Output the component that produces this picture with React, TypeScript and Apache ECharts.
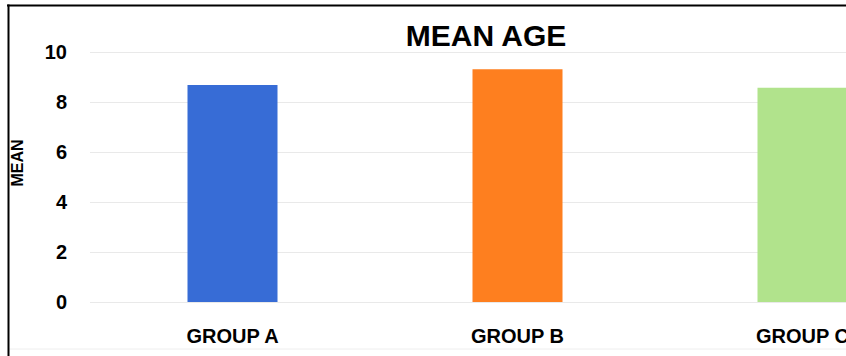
import React, { useEffect, useRef } from "react";
import * as echarts from "echarts";

const categories = ["GROUP A", "GROUP B", "GROUP C"];
const meanValues = [8.68, 9.31, 8.57];
const barColors = ["#376CD6", "#FE7F1F", "#B1E38C"];
const yTicks = { min: 0, max: 10, interval: 2 };

const FONT = "'Liberation Sans', Arial, sans-serif";

export default function App() {
  const ref = useRef<HTMLDivElement>(null);

  useEffect(() => {
    if (!ref.current) return;
    const chart = echarts.init(ref.current, undefined, { renderer: "svg" });
    chart.setOption({
      animation: false,
      backgroundColor: "#ffffff",
      // plot area runs past the right edge of the visible frame
      grid: { left: 90, top: 52, right: 1, bottom: 54 },
      xAxis: {
        type: "category",
        data: categories,
        axisLine: { show: false },
        axisTick: { show: false },
        axisLabel: {
          margin: 24,
          color: "#000000",
          fontFamily: FONT,
          fontWeight: "bold",
          fontSize: 20,
        },
      },
      yAxis: {
        type: "value",
        min: yTicks.min,
        max: yTicks.max,
        interval: yTicks.interval,
        axisLine: { show: false },
        axisTick: { show: false },
        splitLine: { lineStyle: { color: "#e9e9e9", width: 1 } },
        axisLabel: {
          margin: 23,
          color: "#000000",
          fontFamily: FONT,
          fontWeight: "bold",
          fontSize: 20,
        },
      },
      series: [
        {
          type: "bar",
          barWidth: 90,
          data: meanValues.map((v, i) => ({
            value: v,
            itemStyle: { color: barColors[i] },
          })),
        },
      ],
      graphic: [
        {
          type: "text",
          x: 486,
          y: 35,
          style: {
            text: "MEAN AGE",
            fontFamily: FONT,
            fontWeight: "bold",
            fontSize: 30,
            fill: "#000000",
            align: "center",
            verticalAlign: "middle",
          },
        },
        {
          type: "text",
          x: 17.5,
          y: 163,
          rotation: Math.PI / 2,
          style: {
            text: "MEAN",
            fontFamily: FONT,
            fontWeight: "bold",
            fontSize: 16,
            fill: "#000000",
            align: "center",
            verticalAlign: "middle",
          },
        },
        {
          type: "line",
          shape: { x1: 9, y1: 349, x2: 846, y2: 349 },
          style: { stroke: "#eeeeee", lineWidth: 1 },
        },
        {
          type: "line",
          shape: { x1: 7, y1: 5.5, x2: 846, y2: 5.5 },
          style: { stroke: "#000000", lineWidth: 2 },
        },
        {
          type: "line",
          shape: { x1: 8.5, y1: 4.5, x2: 8.5, y2: 356 },
          style: { stroke: "#000000", lineWidth: 2 },
        },
      ],
    });
    return () => chart.dispose();
  }, []);

  return (
    <div
      style={{
        position: "fixed",
        left: 0,
        top: 0,
        width: 846,
        height: 356,
        overflow: "hidden",
      }}
    >
      <div ref={ref} style={{ width: 946, height: 356 }} />
    </div>
  );
}
